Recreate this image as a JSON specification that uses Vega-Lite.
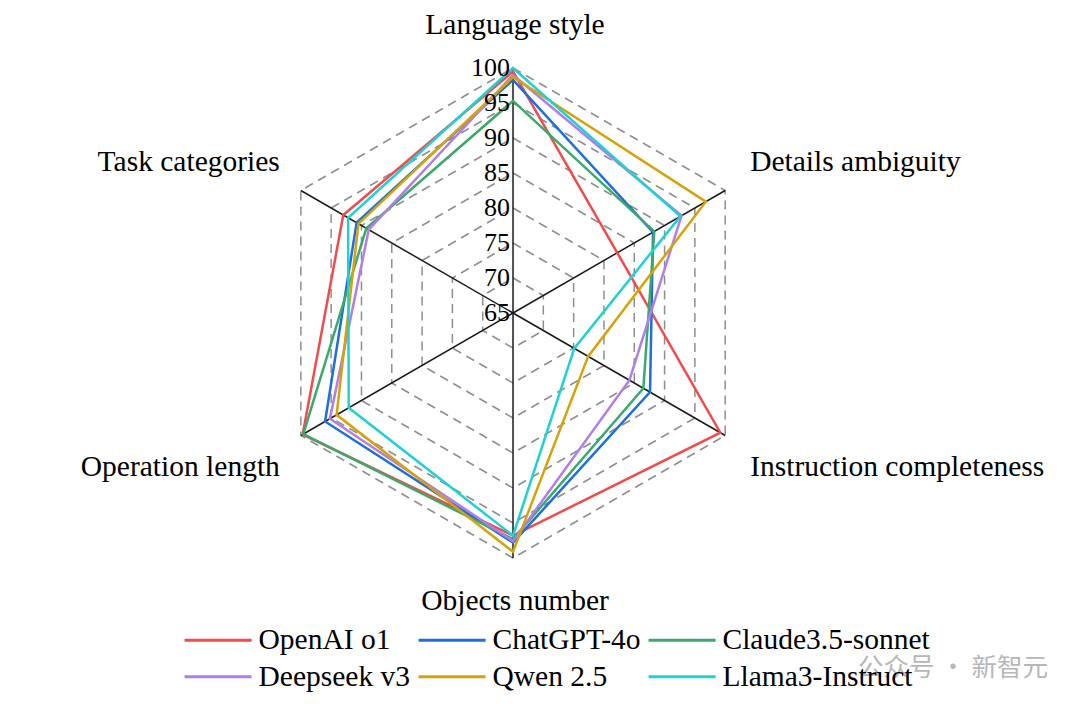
{
  "$schema": "https://vega.github.io/schema/vega-lite/v6.json",
  "width": 1080,
  "height": 713,
  "autosize": {"type": "fit", "contains": "padding"},
  "padding": 0,
  "background": "white",
  "config": {
    "view": {"stroke": null},
    "font": "Liberation Serif",
    "text": {"font": "Liberation Serif", "fontSize": 29.5, "color": "#000"}
  },
  "datasets": {
    "scores": [
      {"model": "OpenAI o1", "Language style": 99.5, "Details ambiguity": 82.2, "Instruction completeness": 99.2, "Objects number": 96.8, "Operation length": 99.7, "Task categories": 93.0},
      {"model": "ChatGPT-4o", "Language style": 98.3, "Details ambiguity": 88.1, "Instruction completeness": 87.6, "Objects number": 97.8, "Operation length": 96.0, "Task categories": 90.8},
      {"model": "Claude3.5-sonnet", "Language style": 95.3, "Details ambiguity": 88.3, "Instruction completeness": 86.5, "Objects number": 97.3, "Operation length": 99.6, "Task categories": 89.2},
      {"model": "Deepseek v3", "Language style": 99.0, "Details ambiguity": 92.8, "Instruction completeness": 84.2, "Objects number": 97.6, "Operation length": 95.2, "Task categories": 88.8},
      {"model": "Qwen 2.5", "Language style": 98.7, "Details ambiguity": 96.8, "Instruction completeness": 77.4, "Objects number": 99.1, "Operation length": 94.1, "Task categories": 90.5},
      {"model": "Llama3-Instruct", "Language style": 100.0, "Details ambiguity": 92.6, "Instruction completeness": 75.1, "Objects number": 96.8, "Operation length": 92.1, "Task categories": 92.2}
    ],
    "axes": [
      {"axis": "Language style", "k": 0},
      {"axis": "Details ambiguity", "k": 1},
      {"axis": "Instruction completeness", "k": 2},
      {"axis": "Objects number", "k": 3},
      {"axis": "Operation length", "k": 4},
      {"axis": "Task categories", "k": 5}
    ],
    "rings": [
      {"level": 70, "k": [0, 1, 2, 3, 4, 5]},
      {"level": 75, "k": [0, 1, 2, 3, 4, 5]},
      {"level": 80, "k": [0, 1, 2, 3, 4, 5]},
      {"level": 85, "k": [0, 1, 2, 3, 4, 5]},
      {"level": 90, "k": [0, 1, 2, 3, 4, 5]},
      {"level": 95, "k": [0, 1, 2, 3, 4, 5]},
      {"level": 100, "k": [0, 1, 2, 3, 4, 5]}
    ],
    "ticks": [
      {"level": 65}, {"level": 70}, {"level": 75}, {"level": 80},
      {"level": 85}, {"level": 90}, {"level": 95}, {"level": 100}
    ],
    "watermark": [
      {"wm": "公众号 · 新智元"}
    ]
  },
  "encoding": {
    "x": {"field": "px", "type": "quantitative", "scale": {"domain": [-73.29, 81], "nice": false, "zero": false}, "axis": null},
    "y": {"field": "py", "type": "quantitative", "scale": {"domain": [-57.14, 44.71], "nice": false, "zero": false}, "axis": null}
  },
  "layer": [
    {
      "data": {"name": "rings"},
      "transform": [
        {"flatten": ["k"]},
        {"calculate": "(datum.level - 65) * cos(PI * (90 - 60 * datum.k) / 180)", "as": "px"},
        {"calculate": "(datum.level - 65) * sin(PI * (90 - 60 * datum.k) / 180)", "as": "py"}
      ],
      "mark": {"type": "line", "interpolate": "linear-closed", "stroke": "#8e8e8e", "strokeWidth": 1.5, "strokeDash": [9, 6]},
      "encoding": {"detail": {"field": "level", "type": "nominal"}, "order": {"field": "k", "type": "quantitative"}}
    },
    {
      "data": {"name": "axes"},
      "transform": [
        {"calculate": "35 * cos(PI * (90 - 60 * datum.k) / 180)", "as": "px"},
        {"calculate": "35 * sin(PI * (90 - 60 * datum.k) / 180)", "as": "py"}
      ],
      "mark": {"type": "rule", "stroke": "#1a1a1a", "strokeWidth": 1.5},
      "encoding": {"x2": {"datum": 0}, "y2": {"datum": 0}}
    },
    {
      "data": {"name": "scores"},
      "transform": [
        {"fold": ["Language style", "Details ambiguity", "Instruction completeness", "Objects number", "Operation length", "Task categories"], "as": ["axis", "value"]},
        {"calculate": "indexof(['Language style', 'Details ambiguity', 'Instruction completeness', 'Objects number', 'Operation length', 'Task categories'], datum.axis)", "as": "k"},
        {"calculate": "(datum.value - 65) * cos(PI * (90 - 60 * datum.k) / 180)", "as": "px"},
        {"calculate": "(datum.value - 65) * sin(PI * (90 - 60 * datum.k) / 180)", "as": "py"}
      ],
      "mark": {"type": "line", "interpolate": "linear-closed", "strokeWidth": 2.5},
      "encoding": {
        "order": {"field": "k", "type": "quantitative"},
        "color": {
          "field": "model",
          "type": "nominal",
          "scale": {
            "domain": ["OpenAI o1", "ChatGPT-4o", "Claude3.5-sonnet", "Deepseek v3", "Qwen 2.5", "Llama3-Instruct"],
            "range": ["#f24b4b", "#1c6fdd", "#3aa96b", "#b07ee6", "#d6a20a", "#1fd0d4"]
          },
          "legend": {
            "title": null,
            "orient": "none",
            "legendX": 181,
            "legendY": 625,
            "direction": "horizontal",
            "columns": 3,
            "gridAlign": "each",
            "columnPadding": 1,
            "rowPadding": 6,
            "padding": 0,
            "symbolType": "M-1,0H5",
            "symbolSize": 499,
            "symbolStrokeWidth": 3,
            "labelFont": "Liberation Serif",
            "labelFontSize": 29.5,
            "labelColor": "#000",
            "labelOffset": 48,
            "labelLimit": 400
          }
        }
      }
    },
    {
      "data": {"name": "ticks"},
      "transform": [
        {"calculate": "0", "as": "px"},
        {"calculate": "datum.level - 65", "as": "py"}
      ],
      "mark": {"type": "text", "align": "right", "baseline": "middle", "dx": -3, "fontSize": 26},
      "encoding": {"text": {"field": "level", "type": "nominal"}}
    },
    {
      "data": {"name": "axes"},
      "transform": [
        {"filter": "datum.k == 0"},
        {"calculate": "35 * cos(PI * (90 - 60 * datum.k) / 180)", "as": "px"},
        {"calculate": "35 * sin(PI * (90 - 60 * datum.k) / 180)", "as": "py"}
      ],
      "mark": {"type": "text", "align": "center", "baseline": "middle", "dx": 2, "dy": -43},
      "encoding": {"text": {"field": "axis", "type": "nominal"}}
    },
    {
      "data": {"name": "axes"},
      "transform": [
        {"filter": "datum.k == 1"},
        {"calculate": "35 * cos(PI * (90 - 60 * datum.k) / 180)", "as": "px"},
        {"calculate": "35 * sin(PI * (90 - 60 * datum.k) / 180)", "as": "py"}
      ],
      "mark": {"type": "text", "align": "left", "baseline": "middle", "dx": 25, "dy": -28},
      "encoding": {"text": {"field": "axis", "type": "nominal"}}
    },
    {
      "data": {"name": "axes"},
      "transform": [
        {"filter": "datum.k == 2"},
        {"calculate": "35 * cos(PI * (90 - 60 * datum.k) / 180)", "as": "px"},
        {"calculate": "35 * sin(PI * (90 - 60 * datum.k) / 180)", "as": "py"}
      ],
      "mark": {"type": "text", "align": "left", "baseline": "middle", "dx": 25, "dy": 31},
      "encoding": {"text": {"field": "axis", "type": "nominal"}}
    },
    {
      "data": {"name": "axes"},
      "transform": [
        {"filter": "datum.k == 3"},
        {"calculate": "35 * cos(PI * (90 - 60 * datum.k) / 180)", "as": "px"},
        {"calculate": "35 * sin(PI * (90 - 60 * datum.k) / 180)", "as": "py"}
      ],
      "mark": {"type": "text", "align": "center", "baseline": "middle", "dx": 2, "dy": 43},
      "encoding": {"text": {"field": "axis", "type": "nominal"}}
    },
    {
      "data": {"name": "axes"},
      "transform": [
        {"filter": "datum.k == 4"},
        {"calculate": "35 * cos(PI * (90 - 60 * datum.k) / 180)", "as": "px"},
        {"calculate": "35 * sin(PI * (90 - 60 * datum.k) / 180)", "as": "py"}
      ],
      "mark": {"type": "text", "align": "right", "baseline": "middle", "dx": -21, "dy": 31},
      "encoding": {"text": {"field": "axis", "type": "nominal"}}
    },
    {
      "data": {"name": "axes"},
      "transform": [
        {"filter": "datum.k == 5"},
        {"calculate": "35 * cos(PI * (90 - 60 * datum.k) / 180)", "as": "px"},
        {"calculate": "35 * sin(PI * (90 - 60 * datum.k) / 180)", "as": "py"}
      ],
      "mark": {"type": "text", "align": "right", "baseline": "middle", "dx": -21, "dy": -28},
      "encoding": {"text": {"field": "axis", "type": "nominal"}}
    },
    {
      "data": {"name": "watermark"},
      "transform": [
        {"calculate": "49.3", "as": "px"},
        {"calculate": "-50.7", "as": "py"}
      ],
      "mark": {"type": "text", "align": "left", "baseline": "middle", "font": "Noto Sans CJK SC", "fontSize": 25.5, "color": "#b0b0b0", "opacity": 0.9},
      "encoding": {"text": {"field": "wm", "type": "nominal"}}
    }
  ]
}
